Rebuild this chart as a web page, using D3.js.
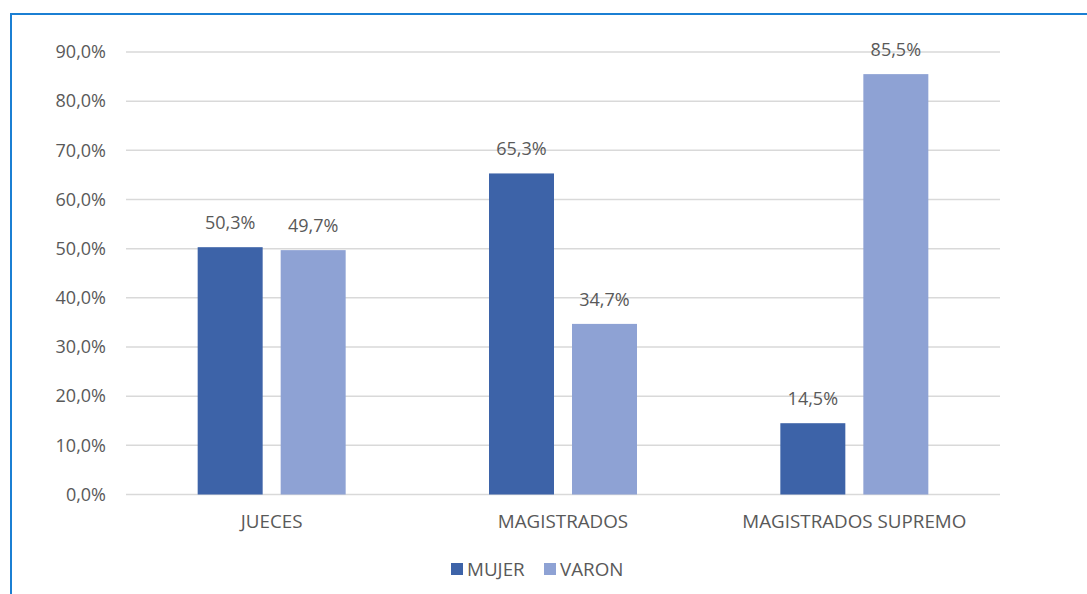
<!DOCTYPE html>
<html>
<head>
<meta charset="utf-8">
<script src="https://cdn.jsdelivr.net/npm/d3@7"></script>
<style>
  html, body { margin: 0; padding: 0; background: #fff; }
  svg { display: block; }
  text { font-family: "Open Sans", "Liberation Sans", sans-serif; fill: #595959; }
</style>
</head>
<body>
<svg id="chart" width="1087" height="594"></svg>
<script>
const categories = ["JUECES", "MAGISTRADOS", "MAGISTRADOS SUPREMO"];
const seriesNames = ["MUJER", "VARON"];
const mujer = [50.3, 65.3, 14.5];
const varon = [49.7, 34.7, 85.5];
const yTicks = [0, 10, 20, 30, 40, 50, 60, 70, 80, 90];
const colors = ["#3d63a8", "#8ea2d4"];

const seriesValues = [mujer, varon];
const rows = categories.map((c, i) => ({
  cat: c,
  vals: seriesNames.map((s, j) => ({ series: s, idx: j, v: seriesValues[j][i] }))
}));

const svg = d3.select("#chart");
const fsNum = 18;
const fsCat = 18.8;
const fmt = v => d3.format(".1f")(v).replace(".", ",") + "%";

// outer frame (chart border)
svg.append("rect")
  .attr("x", 11).attr("y", 14)
  .attr("width", 1200).attr("height", 700)
  .attr("fill", "none").attr("stroke", "#1b7fd3").attr("stroke-width", 2);

const plot = { left: 126, right: 1000, top: 52, bottom: 494.5 };

const y = d3.scaleLinear().domain([0, 90]).range([plot.bottom, plot.top]);
const x0 = d3.scaleBand().domain(categories).range([plot.left, plot.right])
  .paddingInner(0.492).paddingOuter(0.246);
const x1 = d3.scaleBand().domain(seriesNames).range([0, x0.bandwidth()])
  .paddingInner(0.217).paddingOuter(0);

// gridlines
svg.append("g").selectAll("line").data(yTicks).join("line")
  .attr("x1", plot.left).attr("x2", plot.right)
  .attr("y1", d => y(d)).attr("y2", d => y(d))
  .attr("stroke", "#d9d9d9").attr("stroke-width", 1.5);

// y axis labels
const yAxis = d3.axisLeft(y).tickValues(yTicks).tickFormat(fmt).tickSize(0).tickPadding(20);
const gy = svg.append("g").attr("transform", `translate(${plot.left},0)`).call(yAxis);
gy.select(".domain").remove();
gy.selectAll("text").attr("font-size", fsNum).attr("fill", "#595959")
  .attr("font-family", '"Open Sans", sans-serif');

// x axis labels
const xAxis = d3.axisBottom(x0).tickSize(0).tickPadding(20);
const gx = svg.append("g").attr("transform", `translate(0,${plot.bottom})`).call(xAxis);
gx.select(".domain").remove();
gx.selectAll("text").attr("font-size", fsCat).attr("fill", "#595959")
  .attr("font-family", '"Open Sans", sans-serif');

// bars
const groups = svg.append("g").selectAll("g").data(rows).join("g")
  .attr("transform", d => `translate(${x0(d.cat)},0)`);

groups.selectAll("rect").data(d => d.vals).join("rect")
  .attr("x", d => x1(d.series))
  .attr("y", d => y(d.v))
  .attr("width", x1.bandwidth())
  .attr("height", d => y(0) - y(d.v))
  .attr("fill", d => colors[d.idx]);

groups.selectAll("text.lbl").data(d => d.vals).join("text")
  .attr("class", "lbl")
  .attr("x", d => x1(d.series) + x1.bandwidth() / 2)
  .attr("y", d => y(d.v) - 18)
  .attr("text-anchor", "middle")
  .attr("font-size", fsNum)
  .text(d => fmt(d.v));

// legend
const legend = svg.append("g");
const legX = [451, 544];
seriesNames.forEach((s, i) => {
  legend.append("rect").attr("x", legX[i]).attr("y", 563)
    .attr("width", 12).attr("height", 12).attr("fill", colors[i]);
  legend.append("text").attr("x", legX[i] + 16).attr("y", 569)
    .attr("dy", "0.35em").attr("font-size", fsCat).text(s);
});
</script>
</body>
</html>
